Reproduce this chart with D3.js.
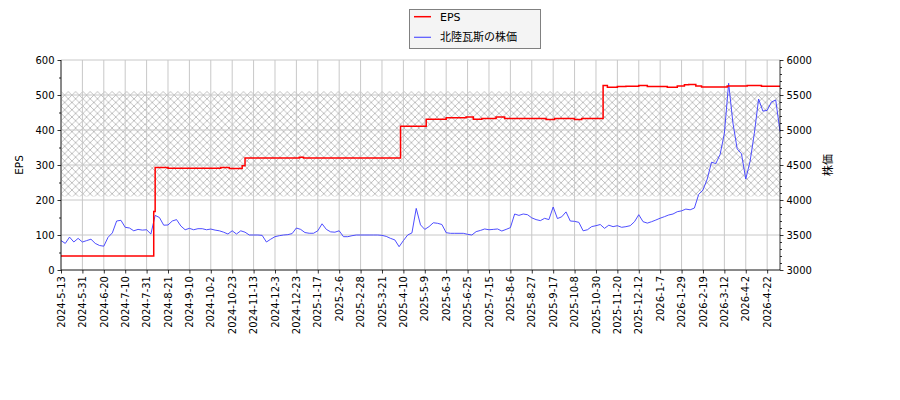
<!DOCTYPE html>
<html><head><meta charset="utf-8">
<script src="https://cdn.jsdelivr.net/npm/d3@7"></script>
<style>body{margin:0;background:#fff}text{font-family:"DejaVu Sans",sans-serif}</style>
</head><body><div id="chart"></div>
<script>
const tickLabels = ["2024-5-13","2024-5-31","2024-6-20","2024-7-10","2024-7-31","2024-8-21","2024-9-10","2024-10-2","2024-10-23","2024-11-13","2024-12-3","2024-12-23","2025-1-17","2025-2-6","2025-2-28","2025-3-21","2025-4-10","2025-5-9","2025-6-3","2025-6-25","2025-7-15","2025-8-6","2025-8-27","2025-9-17","2025-10-8","2025-10-30","2025-11-20","2025-12-12","2026-1-7","2026-1-29","2026-2-19","2026-3-12","2026-4-2","2026-4-22"];
const tickDays = [0,15,30,45,60,75,90,105,120,135,150,165,180,195,210,225,240,255,270,285,300,315,330,345,360,375,390,405,420,435,450,465,480,495];
const lastDay = 504;
// stock price sampled every 3 trading days
const priceStep = 3;
const prices = [3420,3380,3470,3400,3452,3400,3420,3440,3380,3350,3340,3467,3530,3700,3710,3610,3600,3560,3580,3570,
3575,3514,3780,3750,3640,3643,3700,3720,3629,3575,3595,3575,3590,3590,3575,3585,3570,3560,3540,3514,
3560,3514,3560,3540,3500,3500,3500,3495,3400,3440,3476,3490,3500,3505,3520,3600,3580,3535,3525,3525,
3560,3660,3580,3545,3540,3560,3476,3476,3490,3500,3500,3500,3500,3500,3500,3495,3480,3452,3430,3333,
3420,3500,3530,3880,3645,3580,3620,3675,3667,3650,3533,3524,3524,3524,3524,3510,3500,3548,3565,3586,
3575,3580,3586,3557,3580,3605,3800,3780,3800,3790,3745,3720,3705,3738,3720,3900,3735,3760,3830,3700,
3695,3681,3560,3575,3620,3633,3650,3595,3640,3619,3633,3610,3619,3633,3690,3790,3690,3670,3690,3714,
3740,3762,3786,3800,3833,3845,3870,3860,3885,4080,4143,4300,4540,4520,4650,4950,5667,5100,4730,4660,
4300,4550,4950,5443,5270,5280,5400,5429,4980];
// EPS step changes (trading-day index, value)
const epsDays = [0,65,66,75,112,118,127,129,167,170,238,256,270,284,289,295,305,311,340,346,360,365,380,383,390,396,405,411,425,432,437,440,445,449,467,481,491,504];
const epsVals = [40,167,293,291,293,290,298,320,322,320,411,431,435,437,431,433,437,433,430,433,430,433,527,522,524,525,527,524,522,526,529,530,526,523,526,527,525,525];
const bandRange = [4050,5550];
const leftTicks = [0,100,200,300,400,500,600];
const rightTicks = [3000,3500,4000,4500,5000,5500,6000];

const W=900,H=400, L=61, R=780, T=60, B=270;
const svg = d3.select("#chart").append("svg").attr("width",W).attr("height",H);
const x = d3.scaleLinear().domain([0,lastDay]).range([L,R]);
const yL = d3.scaleLinear().domain([0,600]).range([B,T]);
const yR = d3.scaleLinear().domain([3000,6000]).range([B,T]);

const defs = svg.append("defs");
const s=7.3;
const pat = defs.append("pattern").attr("id","hatch").attr("patternUnits","userSpaceOnUse")
  .attr("width",s).attr("height",s).attr("x",L).attr("y",yR(bandRange[1]));
pat.append("path").attr("d",`M0,0L${s},${s}M0,${s}L${s},0`)
  .attr("stroke","#bcbcbc").attr("stroke-width",1).attr("fill","none").attr("shape-rendering","crispEdges");

svg.append("rect").attr("x",L).attr("width",R-L).attr("y",yR(bandRange[1]))
  .attr("height",yR(bandRange[0])-yR(bandRange[1])).attr("fill","url(#hatch)");

// grid
const g = svg.append("g").attr("stroke","#c8c8c8").attr("stroke-width",1);
tickDays.forEach(d=>g.append("line").attr("x1",x(d)).attr("x2",x(d)).attr("y1",T).attr("y2",B));
leftTicks.forEach(v=>g.append("line").attr("x1",L).attr("x2",R).attr("y1",yL(v)).attr("y2",yL(v)));

// price line
const priceLine = d3.line().x((d,i)=>x(i*priceStep)).y(d=>yR(d));
svg.append("path").datum(prices).attr("d",priceLine).attr("fill","none").attr("stroke","#3a3aff").attr("stroke-width",0.9);

// EPS line
const epsData = epsDays.map((d,i)=>[d,epsVals[i]]);
const epsLine = d3.line().x(d=>x(d[0])).y(d=>yL(d[1])).curve(d3.curveStepAfter);
svg.append("path").datum(epsData).attr("d",epsLine).attr("fill","none").attr("stroke","#ff0000").attr("stroke-width",1.5);

// axes
const axL = d3.axisLeft(yL).tickValues(leftTicks).tickSize(3.5).tickPadding(3).tickFormat(d3.format("d"));
const axLm = d3.axisLeft(yL).tickValues(d3.range(50,600,100)).tickSize(2).tickFormat("");
const axR = d3.axisRight(yR).tickValues(rightTicks).tickSize(3.5).tickPadding(3).tickFormat(d3.format("d"));
const axRm = d3.axisRight(yR).tickValues(d3.range(3100,6000,100).filter(v=>v%500)).tickSize(2).tickFormat("");
const axB = d3.axisBottom(x).tickValues(tickDays).tickSize(3.5).tickFormat((d,i)=>tickLabels[i]);
function style(sel){sel.selectAll("text").attr("font-size",10).attr("fill","#000");sel.selectAll("line").attr("stroke","#000").attr("stroke-width",0.8);sel.select(".domain").attr("stroke","#000").attr("stroke-width",0.8);}
svg.append("g").attr("transform",`translate(${L},0)`).call(axL).call(style).select(".domain").attr("d",`M0,${T}V${B}`);
svg.append("g").attr("transform",`translate(${L},0)`).call(axLm).call(style).select(".domain").remove();
svg.append("g").attr("transform",`translate(${R},0)`).call(axR).call(style).select(".domain").attr("d",`M0,${T}V${B}`);
svg.append("g").attr("transform",`translate(${R},0)`).call(axRm).call(style).select(".domain").remove();
const gb = svg.append("g").attr("transform",`translate(0,${B})`).call(axB).call(style);
gb.select(".domain").attr("d",`M${L},0H${R}`);
gb.selectAll("text").attr("transform","rotate(-90)").attr("text-anchor","end").attr("dy","0.32em").attr("x",-6).attr("y",0);

svg.append("text").attr("transform",`translate(23,165) rotate(-90)`).attr("text-anchor","middle").attr("font-size",10.5).text("EPS");
svg.append("text").attr("transform",`translate(832,165) rotate(-90)`).attr("text-anchor","middle").attr("font-size",11)
  .style("font-family","'Noto Sans CJK JP',sans-serif").text("株価");

// legend
const lg = svg.append("g");
lg.append("rect").attr("x",409.5).attr("y",9.5).attr("width",131).attr("height",39).attr("fill","#f4f4f4").attr("stroke","#808080").attr("stroke-width",1);
const items=[["EPS","#ff0000",1.5],["北陸瓦斯の株価","#5555ff",1.2]];
items.forEach((it,i)=>{
  const yy=16.7+i*20.6;
  lg.append("line").attr("x1",414).attr("x2",431).attr("y1",yy).attr("y2",yy).attr("stroke",it[1]).attr("stroke-width",it[2]);
  lg.append("text").attr("x",440).attr("y",yy).attr("dy","0.36em").attr("font-size",11)
    .style("font-family",i? "'Noto Sans CJK JP',sans-serif":"'DejaVu Sans',sans-serif").text(it[0]);
});
</script></body></html>
